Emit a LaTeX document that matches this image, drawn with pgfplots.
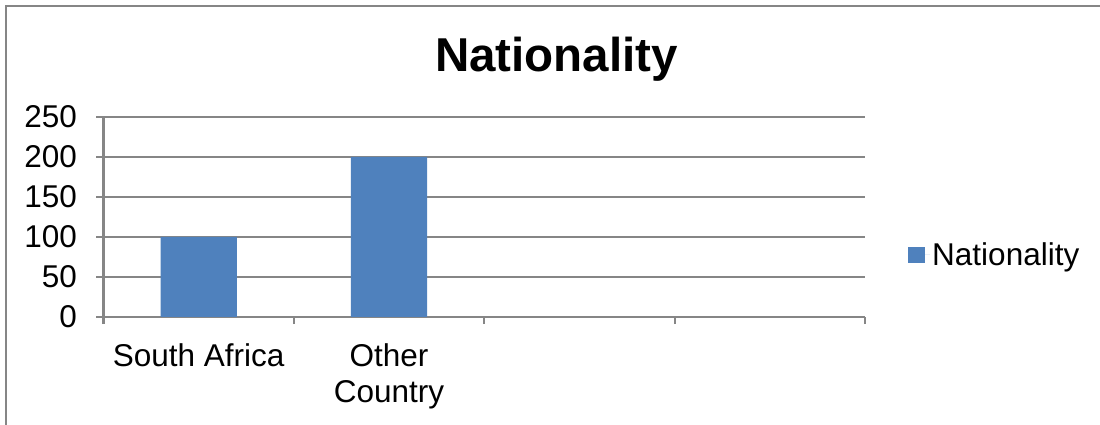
\documentclass[border=0pt]{standalone}
\usepackage{fontspec}
\setmainfont{Liberation Sans}
\usepackage{pgfplots}
\pgfplotsset{compat=1.18}
\definecolor{barblue}{HTML}{4F81BD}
\definecolor{framegray}{HTML}{868686}

\newcommand{\labelfont}{\fontsize{31.5bp}{36bp}\selectfont}

\begin{document}
\begin{tikzpicture}
\path[use as bounding box] (0bp,0bp) rectangle (1100bp,425bp);
% chart frame (left and top edges)
\draw[framegray, line width=2bp] (5.5bp,-10bp) -- (5.5bp,418.5bp) -- (1110bp,418.5bp);
% chart title
\node[font=\fontsize{47.5bp}{56bp}\selectfont\bfseries, anchor=base, inner sep=0pt]
  at (556.5bp,353bp) {Nationality};

\begin{axis}[
  at={(103.5bp,108bp)}, anchor=south west,
  scale only axis, width=761.5bp, height=200bp,
  xmin=-0.5, xmax=3.5, ymin=0, ymax=250,
  ytick={0,50,...,250},
  xtick={0,1,2,3}, xticklabels={South Africa,{Other\\Country},,},
  minor xtick={-0.5,0.5,1.5,2.5,3.5},
  axis x line*=bottom, axis y line*=left,
  axis line style={framegray, line width=2bp, -},
  ymajorgrids, major grid style={framegray, line width=2bp},
  tick align=outside,
  major tick length=7bp, minor tick length=7bp,
  every tick/.style={framegray, line width=2bp},
  major x tick style={draw=none},
  ticklabel style={font=\labelfont},
  /pgf/number format/assume math mode=true,
  x tick label style={align=center, anchor=north, yshift=-16bp},
  y tick label style={anchor=east, xshift=-16bp},
  legend style={draw=none, fill=none, at={(1.0565,0.31)}, anchor=west,
    inner sep=0pt, font=\labelfont},
  legend cell align=left,
  legend image code/.code={%
    \fill[#1] (0bp,-8bp) rectangle (17bp,8bp);
    \path (17bp,0bp) -- (22bp,0bp);},
]
\addplot[ybar, bar width=0.4, fill=barblue, draw=none]
  coordinates {(0,100) (1,200)};
\addlegendentry{Nationality}
\end{axis}
\end{tikzpicture}
\end{document}
